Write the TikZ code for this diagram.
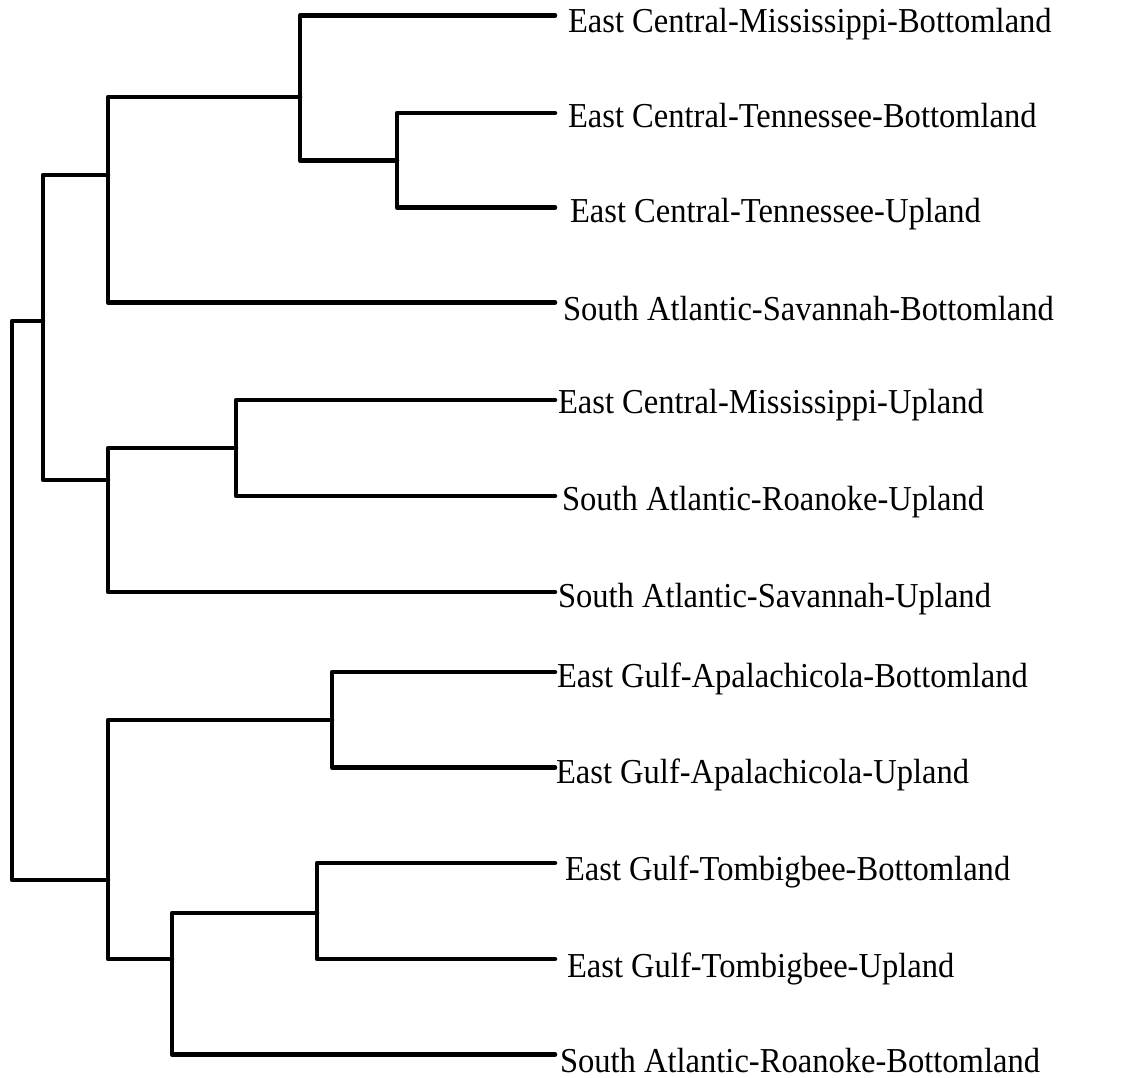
\documentclass[tikz,border=0pt]{standalone}
\usepackage{fontspec}
\setmainfont{Liberation Serif}[FakeStretch=0.93]
\begin{document}
\begin{tikzpicture}[x=1pt,y=-1pt,
  branch/.style={line width=4.5pt,line cap=round,line join=round,black},
  leaflabel/.style={anchor=base west,inner sep=0pt,outer sep=0pt,font=\fontsize{35}{40}\selectfont}]
\useasboundingbox (0,0) rectangle (1133,1078);
% leaf line ends
\coordinate (l1) at (555,15.5);
\coordinate (l2) at (555,113);
\coordinate (l3) at (555,207.5);
\coordinate (l4) at (555,302.5);
\coordinate (l5) at (555,400);
\coordinate (l6) at (555,496);
\coordinate (l7) at (555,592);
\coordinate (l8) at (555,672);
\coordinate (l9) at (555,767.5);
\coordinate (l10) at (555,863);
\coordinate (l11) at (555,959);
\coordinate (l12) at (555,1054.5);
% internal nodes
\coordinate (A) at (397,160.5);
\coordinate (B) at (300,97);
\coordinate (C) at (108,175);
\coordinate (D) at (236,448);
\coordinate (E) at (108,480);
\coordinate (F) at (43,321);
\coordinate (G) at (332,720);
\coordinate (H) at (317,913);
\coordinate (I) at (172,959);
\coordinate (J) at (108,880);
\coordinate (R) at (12,600);
% brackets
\draw[branch] (l2) -| (A) |- (l3);
\draw[branch] (l1) -| (B) |- (A);
\draw[branch] (B) -| (C) |- (l4);
\draw[branch] (l5) -| (D) |- (l6);
\draw[branch] (D) -| (E) |- (l7);
\draw[branch] (C) -| (F) |- (E);
\draw[branch] (l8) -| (G) |- (l9);
\draw[branch] (l10) -| (H) |- (l11);
\draw[branch] (H) -| (I) |- (l12);
\draw[branch] (G) -| (J) |- (I);
\draw[branch] (F) -| (R) |- (J);
% labels
\node[leaflabel] (t1) at (568,33) {East Central-Mississippi-Bottomland};
\node[leaflabel] (t2) at (568,128) {East Central-Tennessee-Bottomland};
\node[leaflabel] (t3) at (570,223) {East Central-Tennessee-Upland};
\node[leaflabel] (t4) at (563,320) {South Atlantic-Savannah-Bottomland};
\node[leaflabel] (t5) at (558,413) {East Central-Mississippi-Upland};
\node[leaflabel] (t6) at (562,510) {South Atlantic-Roanoke-Upland};
\node[leaflabel] (t7) at (558,607) {South Atlantic-Savannah-Upland};
\node[leaflabel] (t8) at (557,687) {East Gulf-Apalachicola-Bottomland};
\node[leaflabel] (t9) at (556,783) {East Gulf-Apalachicola-Upland};
\node[leaflabel] (t10) at (565,880) {East Gulf-Tombigbee-Bottomland};
\node[leaflabel] (t11) at (567,977) {East Gulf-Tombigbee-Upland};
\node[leaflabel] (t12) at (560,1072) {South Atlantic-Roanoke-Bottomland};
\end{tikzpicture}
\end{document}
